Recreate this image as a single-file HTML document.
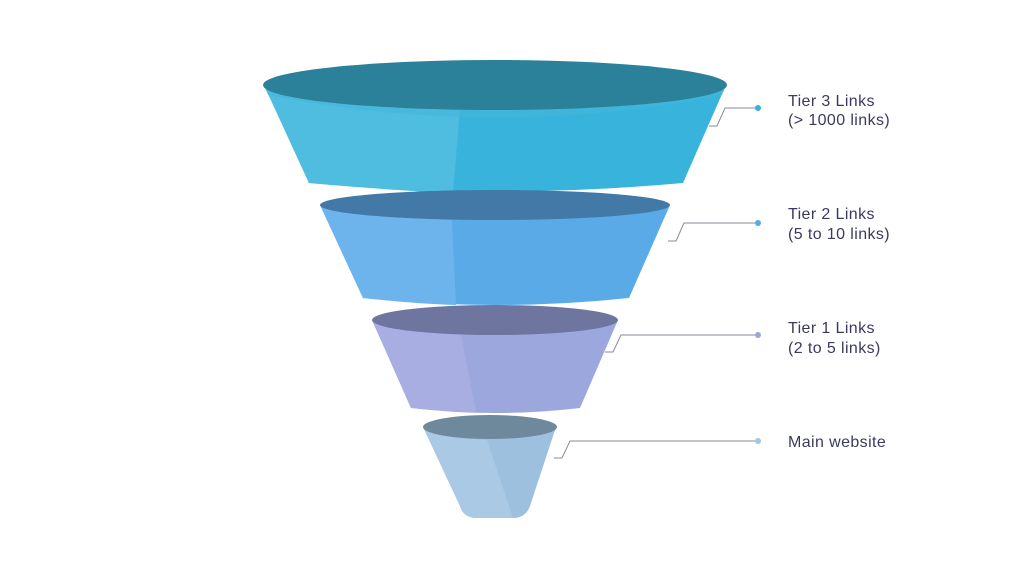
<!DOCTYPE html>
<html><head><meta charset="utf-8"><style>
html,body{margin:0;padding:0;background:#fff;width:1024px;height:576px;overflow:hidden}
text{font-family:"Liberation Sans",sans-serif;font-size:16px;letter-spacing:0.4px;fill:#3b3a5e}
</style></head><body>
<svg width="1024" height="576" viewBox="0 0 1024 576" xmlns="http://www.w3.org/2000/svg">
<!-- Tier 3 -->
<path d="M264,85 L309,183 Q495,200 683,183 L726,85 Z" fill="#38b4dc"/>
<path d="M264,85 L309,183 Q400,191 453,193 L460,110 Q330,105 264,85 Z" fill="#4fbde0"/>
<path d="M264,85 Q495,135 726,85 L722,95 Q495,140 268,95 Z" fill="#45b5d8" opacity="0.6"/>
<ellipse cx="495" cy="85" rx="232" ry="25" fill="#2a8199"/>
<!-- Tier 2 -->
<path d="M320,205 L363,298 Q495,312 629,298 L670,205 Z" fill="#5aaae8"/>
<path d="M320,205 L363,298 Q420,304 456,305 L452,220 Q370,217 320,205 Z" fill="#6db3ec"/>
<ellipse cx="495" cy="205" rx="175" ry="15" fill="#4279a6"/>
<!-- Tier 1 -->
<path d="M372,320 L411,408 Q495,418 580,408 L618,320 Z" fill="#9ca7dd"/>
<path d="M372,320 L411,408 Q450,412 476,412 L461,335 Q405,332 372,320 Z" fill="#a8aee2"/>
<ellipse cx="495" cy="320" rx="123" ry="15" fill="#6e759e"/>
<!-- Main -->
<path d="M423,427 L460,506 Q463,517 475,518 L515,518 Q526,517 530,506 L556,427 Z" fill="#9dc0de"/>
<path d="M423,427 L460,506 Q463,517 475,518 L513,518 L487,440 Q445,438 423,427 Z" fill="#aac9e4"/>
<ellipse cx="490" cy="427" rx="67" ry="12" fill="#6e889c"/>
<!-- connectors -->
<g fill="none" stroke="#8a8a95" stroke-width="1">
<polyline points="709,126 717,126 725,108 755,108"/>
<polyline points="668,241 676,241 684,223 755,223"/>
<polyline points="605,352 613,352 621,335 755,335"/>
<polyline points="554,458 562,458 570,441 755,441"/>
</g>
<circle cx="758" cy="108" r="3" fill="#36b0dc"/>
<circle cx="758" cy="223" r="3" fill="#58a8e6"/>
<circle cx="758" cy="335" r="3" fill="#9ca6dc"/>
<circle cx="758" cy="441" r="3" fill="#a5c4e0"/>
<text x="788" y="106">Tier 3 Links</text>
<text x="788" y="125">(&gt; 1000 links)</text>
<text x="788" y="219">Tier 2 Links</text>
<text x="788" y="239">(5 to 10 links)</text>
<text x="788" y="333">Tier 1 Links</text>
<text x="788" y="353">(2 to 5 links)</text>
<text x="788" y="447">Main website</text>
</svg>
</body></html>
